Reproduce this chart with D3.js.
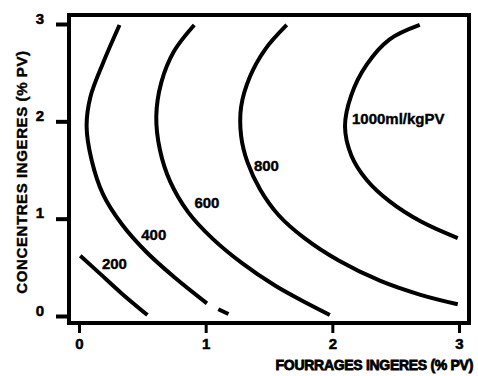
<!DOCTYPE html>
<html>
<head>
<meta charset="utf-8">
<script src="https://cdn.jsdelivr.net/npm/d3@7"></script>
<style>
  body { margin: 0; background: #fff; }
  svg { font-family: "Liberation Sans", Arial, sans-serif; font-weight: bold; }
</style>
</head>
<body>
<svg id="chart" width="478" height="376"></svg>
<script>
// iso-lines: [fourrages, concentres] in % PV
const CURVE_200 = [[0.01, 0.62], [0.17, 0.43], [0.33, 0.24], [0.54, 0.01]];
const CURVE_400 = [
  [0.32, 2.99], [0.19, 2.6], [0.09, 2.25], [0.06, 1.95], [0.1, 1.6],
  [0.19, 1.25], [0.34, 0.94], [0.53, 0.66], [0.76, 0.39], [1.01, 0.13],
];
const CURVE_400_TAIL = [[1.1, 0.07], [1.18, 0.02]];
const CURVE_600 = [
  [0.91, 2.99], [0.75, 2.72], [0.65, 2.4], [0.61, 2.05], [0.64, 1.7],
  [0.72, 1.38], [0.86, 1.07], [1.05, 0.8], [1.29, 0.54], [1.55, 0.31],
  [1.8, 0.13], [1.98, 0.01],
];
const CURVE_800 = [
  [1.64, 2.99], [1.47, 2.74], [1.35, 2.46], [1.28, 2.15], [1.28, 1.85],
  [1.33, 1.58], [1.43, 1.3], [1.58, 1.03], [1.78, 0.8], [2.05, 0.57],
  [2.38, 0.36], [2.69, 0.22], [2.99, 0.12],
];
const CURVE_1000 = [
  [2.69, 2.99], [2.45, 2.84], [2.27, 2.58], [2.15, 2.27], [2.1, 1.95],
  [2.15, 1.65], [2.27, 1.4], [2.45, 1.18], [2.7, 0.97], [2.99, 0.8],
];
const CURVES = [CURVE_200, CURVE_400, CURVE_400_TAIL, CURVE_600, CURVE_800, CURVE_1000];

const LABEL_TEXT = ["200", "400", "600", "800", "1000ml/kgPV"];
const LABEL_POS = [[0.28, 0.54], [0.59, 0.84], [1.01, 1.16], [1.48, 1.55], [2.155, 2.03]];
const LABEL_ANCHOR = ["middle", "middle", "middle", "middle", "start"];

const X_TICKS = [0, 1, 2, 3];
const Y_TICKS = [0, 1, 2, 3];
const X_TITLE = "FOURRAGES INGERES (% PV)";
const Y_TITLE = "CONCENTRES INGERES (% PV)";

const FRAME = { left: 69, top: 15, right: 469, bottom: 323 };

const svg = d3.select("#chart");

const x = d3.scaleLinear().domain([0, 3]).range([79, 459]);
const y = d3.scaleLinear().domain([0, 3]).range([316, 24]);

// frame
svg.append("rect")
  .attr("x", FRAME.left)
  .attr("y", FRAME.top)
  .attr("width", FRAME.right - FRAME.left)
  .attr("height", FRAME.bottom - FRAME.top)
  .attr("fill", "none")
  .attr("stroke", "#000")
  .attr("stroke-width", 4);

// y axis
const yAxis = svg.append("g")
  .attr("transform", "translate(" + (FRAME.left - 2) + ",0)")
  .call(d3.axisLeft(y).tickValues(Y_TICKS).tickFormat(d3.format("d")).tickSize(11).tickPadding(4));
yAxis.select(".domain").remove();
yAxis.selectAll("line").attr("stroke-width", 4);
yAxis.selectAll("text")
  .attr("x", -23)
  .attr("dy", "-0.05em")
  .style("font-size", "15px")
  .style("font-weight", "bold")
  .style("font-family", "Liberation Sans, Arial, sans-serif")
  .attr("fill", "#000")
  .attr("stroke", "#000")
  .attr("stroke-width", 0.5);

// x axis
const xAxis = svg.append("g")
  .attr("transform", "translate(0," + (FRAME.bottom + 2) + ")")
  .call(d3.axisBottom(x).tickValues(X_TICKS).tickFormat(d3.format("d")).tickSize(8).tickPadding(5));
xAxis.select(".domain").remove();
xAxis.selectAll("line").attr("stroke-width", 3);
xAxis.selectAll("text")
  .style("font-size", "15px")
  .style("font-weight", "bold")
  .style("font-family", "Liberation Sans, Arial, sans-serif")
  .attr("fill", "#000")
  .attr("stroke", "#000")
  .attr("stroke-width", 0.5);

// iso-lines
const line = d3.line()
  .curve(d3.curveCatmullRom.alpha(0.5))
  .x((d) => x(d[0]))
  .y((d) => y(d[1]));

svg.append("g")
  .selectAll("path")
  .data(CURVES)
  .join("path")
  .attr("d", line)
  .attr("fill", "none")
  .attr("stroke", "#000")
  .attr("stroke-width", 4)
  .attr("stroke-linecap", "butt")
  .attr("stroke-linejoin", "round");

// iso-line labels
svg.append("g")
  .selectAll("text")
  .data(LABEL_TEXT)
  .join("text")
  .attr("x", (d, i) => x(LABEL_POS[i][0]))
  .attr("y", (d, i) => y(LABEL_POS[i][1]))
  .attr("dy", "0.36em")
  .attr("text-anchor", (d, i) => LABEL_ANCHOR[i])
  .style("font-size", "15px")
  .attr("stroke", "#000")
  .attr("stroke-width", 0.4)
  .text((d) => d);

// axis titles
svg.append("text")
  .attr("x", 473)
  .attr("y", 370)
  .attr("text-anchor", "end")
  .style("font-size", "14px")
  .style("letter-spacing", "-0.3px")
  .attr("stroke", "#000")
  .attr("stroke-width", 0.8)
  .text(X_TITLE);

svg.append("text")
  .attr("transform", "translate(27,172) rotate(-90)")
  .attr("text-anchor", "middle")
  .style("font-size", "15px")
  .style("letter-spacing", "0.6px")
  .attr("stroke", "#000")
  .attr("stroke-width", 0.4)
  .text(Y_TITLE);
</script>
</body>
</html>
